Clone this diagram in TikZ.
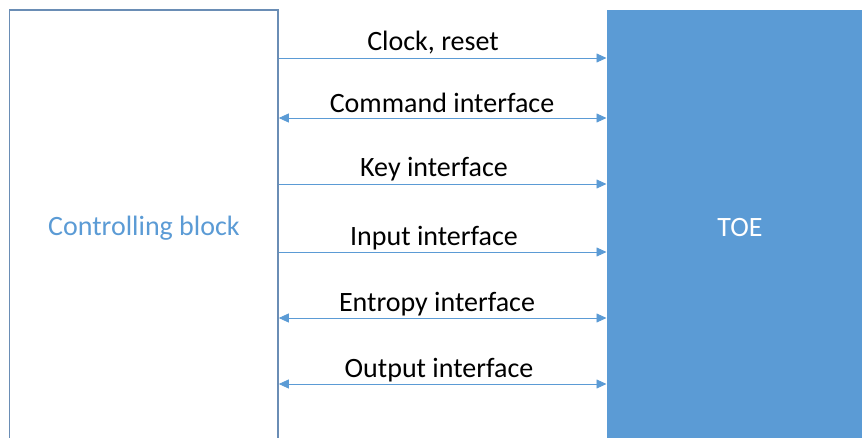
\documentclass[tikz,border=0pt]{standalone}
\usepackage{fontspec}
\setmainfont{Carlito}
\usetikzlibrary{arrows.meta}
\definecolor{accent}{HTML}{5B9BD5}
\definecolor{edge}{HTML}{6A8DB5}
\begin{document}
\begin{tikzpicture}[x=1pt,y=-1pt,
  lbl/.style={font=\fontsize{28}{32}\selectfont, text=black, inner sep=0},
  conn/.style={draw=accent, line width=0.8pt, -{Triangle[length=10pt,width=9pt]}},
  biconn/.style={draw=accent, line width=0.8pt, {Triangle[length=10pt,width=9pt]}-{Triangle[length=10pt,width=9pt]}}]
\useasboundingbox (0,0) rectangle (862,438);
\draw[edge, line width=1.5pt] (9.5,445) -- (9.5,10) -- (278,10) -- (278,445);
\fill[accent] (607,10) rectangle (870,445);
\node[font=\fontsize{28}{32}\selectfont, text=accent] (cb) at (144,228) {Controlling block};
\node[font=\fontsize{28}{32}\selectfont, text=white] (toe) at (740,228) {TOE};
\foreach \y/\n in {58/a,118/b,184/c,252/d,318/e,384/f}{
  \coordinate (L\n) at (278.8,\y);
  \coordinate (R\n) at (606.5,\y);
}
\draw[conn] (La) -- (Ra);
\draw[biconn] (Lb) -- (Rb);
\draw[conn] (Lc) -- (Rc);
\draw[conn] (Ld) -- (Rd);
\draw[biconn] (Le) -- (Re);
\draw[biconn] (Lf) -- (Rf);
\node[lbl] (t1) at (433,43) {Clock, reset};
\node[lbl] (t2) at (442,103) {Command interface};
\node[lbl] (t3) at (434,169) {Key interface};
\node[lbl] (t4) at (434,238) {Input interface};
\node[lbl] (t5) at (437,304) {Entropy interface};
\node[lbl] (t6) at (439,370) {Output interface};
\end{tikzpicture}
\end{document}
